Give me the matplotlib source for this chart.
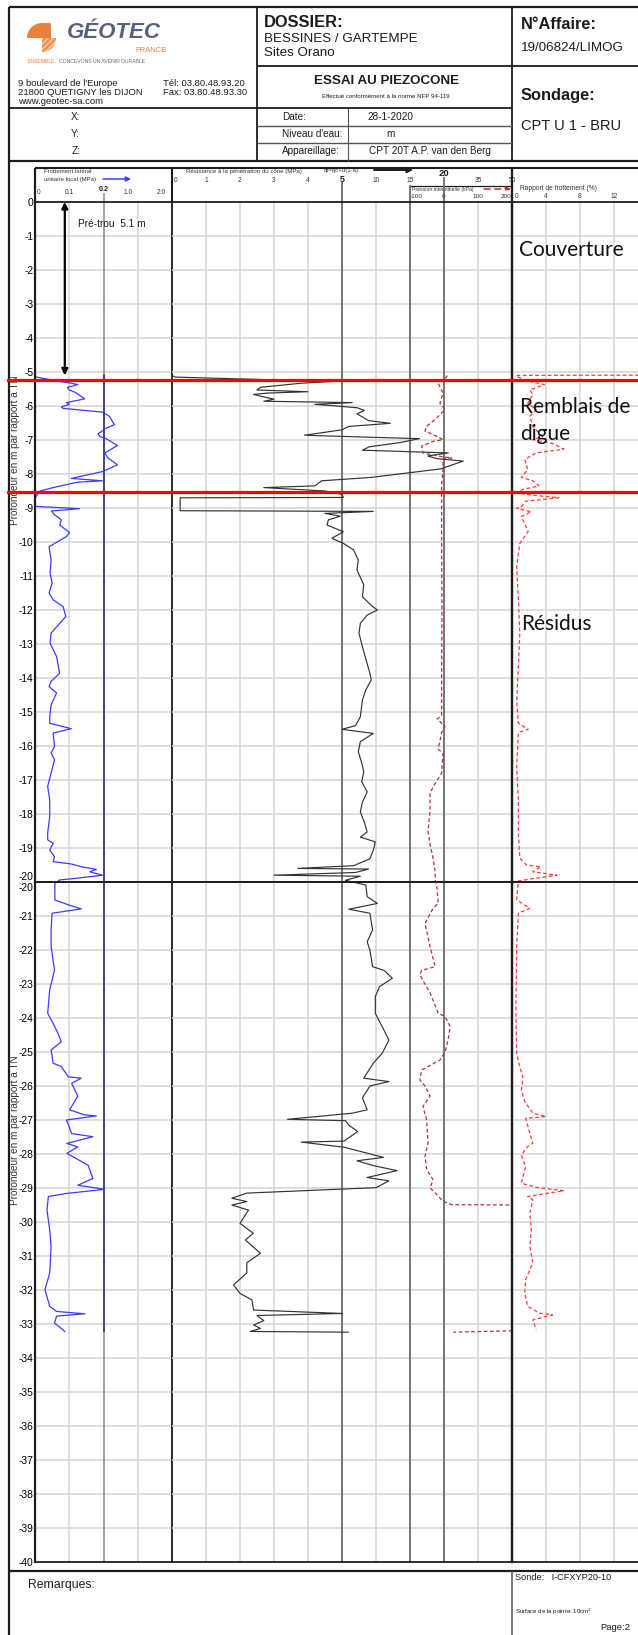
import numpy as np
import matplotlib
matplotlib.use("Agg")
import matplotlib.pyplot as plt
from matplotlib import transforms
from matplotlib.patches import Wedge, Rectangle

W, H = 638, 1635
plt.rcParams["font.family"] = ["Liberation Sans", "DejaVu Sans"]

# ---------------------------------------------------------------- data
PRETROU = 5.1
LAYER_LIMITS = [5.25, 8.52]
LAYER_NAMES = ["Couverture", "Remblais de\ndigue", "Résidus"]
LAYER_LABEL_AT = [(0.8, 1.42), (0.9, 6.42), (1.1, 12.4)]   # (Rf %, depth m)

PAGES = [(0, 20), (20, 40)]          # the log is printed on two stacked sheets

FS_DEPTH = [5.10, 5.14, 5.28, 5.33, 5.37, 5.45, 5.53, 5.60, 5.79, 5.90, 5.95, 6.03, 6.07,
            6.18, 6.30, 6.55, 6.65, 6.82, 6.90, 6.94, 7.16, 7.38, 7.53, 7.73, 7.93, 8.13,
            8.20, 8.24, 8.40, 8.50, 8.70, 8.95, 9.02, 9.09, 9.20, 9.35, 9.50, 9.72, 9.84,
            10.04, 10.14, 10.53, 10.92, 11.21, 11.50, 11.70, 11.90, 12.05, 12.19, 12.44,
            12.68, 12.98, 13.37, 13.86, 14.10, 14.25, 14.44, 14.79, 15.14, 15.33, 15.49,
            15.62, 16.01, 16.21, 16.40, 16.80, 17.19, 17.58, 18.07, 18.56, 18.76, 18.86,
            19.06, 19.26, 19.40, 19.47, 19.55, 19.63, 19.70, 19.80, 19.89, 19.94, 20.04,
            20.53, 20.68, 20.79, 20.92, 21.40, 21.90, 22.59, 23.17, 23.86, 24.16, 24.45,
            24.70, 24.94, 25.33, 25.43, 25.73, 25.77, 25.92, 26.30, 26.70, 26.85, 26.88,
            27.00, 27.40, 27.49, 27.69, 27.79, 27.98, 28.33, 28.72, 28.92, 28.97, 29.04,
            29.16, 29.25, 29.65, 30.24, 30.72, 31.50, 31.99, 32.48, 32.63, 32.70, 32.77,
            32.97, 33.22]
FS_MPA = [0.000, 0.000, 0.072, 0.106, 0.125, 0.095, 0.100, 0.118, 0.145, 0.092, 0.100,
          0.077, 0.082, 0.197, 0.217, 0.232, 0.208, 0.184, 0.190, 0.204, 0.241, 0.204,
          0.213, 0.241, 0.197, 0.106, 0.197, 0.125, 0.053, 0.015, 0.000, 0.000, 0.130,
          0.048, 0.057, 0.077, 0.072, 0.101, 0.092, 0.058, 0.041, 0.047, 0.044, 0.050,
          0.041, 0.053, 0.082, 0.086, 0.090, 0.068, 0.047, 0.044, 0.063, 0.072, 0.047,
          0.041, 0.063, 0.047, 0.043, 0.043, 0.106, 0.053, 0.057, 0.047, 0.057, 0.047,
          0.037, 0.043, 0.043, 0.037, 0.037, 0.053, 0.043, 0.057, 0.053, 0.106, 0.135,
          0.179, 0.160, 0.197, 0.121, 0.072, 0.058, 0.058, 0.100, 0.135, 0.050, 0.047,
          0.047, 0.057, 0.043, 0.037, 0.053, 0.067, 0.077, 0.047, 0.053, 0.077, 0.097,
          0.135, 0.107, 0.125, 0.101, 0.145, 0.179, 0.092, 0.107, 0.169, 0.093, 0.125,
          0.093, 0.155, 0.169, 0.125, 0.160, 0.203, 0.092, 0.039, 0.035, 0.043, 0.047,
          0.043, 0.029, 0.043, 0.063, 0.145, 0.063, 0.057, 0.087]

QC_DEPTH = [5.10, 5.15, 5.28, 5.33, 5.45, 5.53, 5.58, 5.62, 5.66, 5.71, 5.80, 5.86, 5.90,
            5.95, 6.05, 6.13, 6.23, 6.43, 6.51, 6.60, 6.70, 6.86, 6.90, 6.96, 7.08, 7.20,
            7.30, 7.38, 7.47, 7.55, 7.62, 7.85, 8.10, 8.20, 8.35, 8.40, 8.50, 8.60, 8.69,
            8.70, 9.08, 9.10, 9.16, 9.24, 9.35, 9.50, 9.70, 9.89, 10.04, 10.23, 10.53,
            10.82, 11.26, 11.61, 11.90, 12.00, 12.15, 12.39, 12.68, 13.08, 13.50, 13.86,
            14.06, 14.35, 14.65, 15.14, 15.40, 15.51, 15.63, 15.87, 16.17, 16.50, 16.76,
            17.05, 17.35, 17.65, 17.94, 18.25, 18.53, 18.68, 18.82, 19.07, 19.32, 19.52,
            19.60, 19.62, 19.72, 19.80, 19.83, 19.95, 20.09, 20.43, 20.63, 20.80, 20.92,
            21.41, 21.76, 22.00, 22.49, 22.60, 22.83, 23.08, 23.37, 23.86, 24.25, 24.65,
            25.04, 25.33, 25.77, 25.87, 26.00, 26.35, 26.70, 26.80, 26.98, 27.02, 27.15,
            27.34, 27.62, 27.65, 27.80, 27.95, 28.10, 28.20, 28.34, 28.49, 28.69, 28.79,
            28.99, 29.15, 29.30, 29.40, 29.50, 29.65, 30.04, 30.33, 30.53, 30.92, 31.20,
            31.50, 31.85, 32.10, 32.29, 32.59, 32.69, 32.75, 32.90, 33.03, 33.13, 33.22,
            33.24]
QC_MPA = [0.0, 0.1, 4.7, 3.8, 2.6, 2.5, 4.0, 2.8, 2.4, 2.6, 3.0, 2.7, 6.5, 4.2, 7.2, 8.3,
          7.2, 8.9, 12.1, 6.0, 5.0, 3.9, 6.0, 16.4, 13.4, 9.0, 8.0, 21.9, 17.6, 19.0, 28.5,
          19.5, 9.3, 4.4, 4.2, 2.7, 4.5, 5.0, 5.2, 0.24, 0.24, 9.6, 4.5, 4.95, 4.6, 4.56,
          5.2, 4.7, 5.2, 6.7, 7.4, 7.2, 8.2, 8.0, 9.5, 10.2, 8.7, 7.7, 7.5, 8.0, 8.6, 9.1,
          9.3, 8.5, 8.0, 7.7, 7.0, 5.0, 9.6, 7.7, 7.4, 7.9, 8.2, 7.9, 8.7, 8.0, 7.7, 8.3,
          8.7, 7.7, 9.9, 9.6, 9.1, 6.7, 3.7, 8.9, 7.0, 3.0, 7.7, 5.5, 8.5, 8.7, 10.2, 6.0,
          9.1, 9.5, 8.7, 9.1, 9.5, 11.2, 12.4, 10.5, 9.9, 9.9, 10.9, 11.9, 10.9, 9.6, 8.2,
          11.9, 9.1, 8.0, 8.7, 6.5, 3.4, 5.5, 6.0, 7.3, 5.3, 3.8, 5.3, 8.2, 11.1, 7.2, 9.6,
          13.1, 8.7, 11.9, 10.0, 2.2, 1.76, 2.2, 1.76, 2.25, 2.0, 2.39, 2.16, 2.6, 2.2, 2.2,
          1.81, 2.0, 2.35, 2.4, 5.1, 2.5, 2.7, 2.4, 2.6, 2.3, 5.9]

U_DEPTH = [5.10, 5.14, 5.33, 5.62, 5.92, 6.10, 6.35, 6.60, 6.74, 6.84, 6.99, 7.04, 7.18,
           7.38, 7.48, 7.53, 7.55, 7.85, 8.34, 8.93, 10.0, 12.0, 14.0, 15.10, 15.20, 15.43,
           15.60, 16.10, 16.20, 16.80, 17.20, 17.40, 17.90, 18.50, 18.90, 19.30, 19.70,
           19.94, 20.13, 20.63, 20.77, 21.22, 21.90, 22.49, 22.60, 22.73, 23.27, 23.86,
           23.96, 24.25, 24.65, 25.00, 25.24, 25.53, 25.82, 26.00, 26.30, 26.60, 27.00,
           27.68, 28.07, 28.46, 28.76, 29.00, 29.14, 29.39, 29.49, 29.50, 33.20, 33.24]
U_KPA = [8, 8, -17, -3, -12, 3, -21, -51, -56, -32, -3, -32, -66, -62, -12, 23, -3, -3,
         -7, -7, -7, -6, -7, -7, -20, 3, -7, -17, -3, -7, -32, -41, -41, -47, -41, -32,
         -26, -26, -21, -17, -32, -56, -41, -26, -66, -71, -41, -17, 3, 18, 12, 3, -12,
         -66, -71, -56, -41, -62, -51, -47, -56, -51, -32, -41, -26, -3, 23, 199, 199, 27]

RF_DEPTH = [5.09, 5.10, 5.13, 5.28, 5.37, 5.53, 5.66, 5.92, 6.10, 6.30, 6.60, 6.90, 6.99,
            7.10, 7.27, 7.38, 7.57, 7.87, 8.10, 8.20, 8.35, 8.45, 8.55, 8.60, 8.70, 8.80,
            8.99, 9.01, 9.11, 9.25, 9.69, 10.04, 10.73, 11.70, 12.68, 13.66, 14.65, 15.33,
            15.51, 15.60, 16.60, 17.60, 18.56, 19.30, 19.50, 19.55, 19.70, 19.80, 19.90,
            19.97, 20.53, 20.77, 20.92, 21.90, 23.86, 25.04, 25.43, 25.77, 26.12, 26.46,
            26.80, 26.90, 26.95, 27.39, 27.68, 27.78, 28.03, 28.37, 28.86, 28.98, 29.08,
            29.25, 29.35, 29.74, 30.23, 30.72, 31.20, 31.70, 32.09, 32.48, 32.68, 32.73,
            32.88, 33.17]
RF_PCT = [20.0, 0.5, 0.54, 2.1, 3.8, 2.1, 2.45, 1.85, 2.85, 2.1, 2.45, 3.6, 2.45, 4.77,
          6.1, 2.85, 1.5, 1.85, 1.1, 2.45, 3.2, 1.3, 0.55, 1.6, 5.5, 1.6, 1.0, 0.55, 2.27,
          1.1, 1.9, 0.92, 0.55, 0.75, 0.92, 0.75, 0.55, 0.75, 1.9, 0.75, 0.55, 0.75, 0.75,
          0.92, 1.7, 3.4, 2.45, 5.3, 2.45, 0.75, 0.55, 2.1, 0.75, 0.55, 0.46, 0.55, 0.92,
          1.3, 1.1, 1.5, 2.45, 4.0, 1.6, 2.1, 2.45, 1.85, 1.1, 1.6, 1.1, 2.85, 6.1, 1.85,
          2.45, 2.1, 2.27, 2.1, 2.45, 1.6, 1.5, 1.85, 3.2, 4.77, 2.45, 2.85]

FS_TICKS = [0, 0.1, 0.2]
FS_COARSE_TICKS = [1.0, 2.0]
QC_TICKS = [0, 1, 2, 3, 4, 5, 10, 15, 20, 35, 50]
U_TICKS = [-100, 0, 100, 200]
RF_TICKS = [0, 4, 8, 12]

# piecewise cone-resistance scale (0-5 / 5-20 / 20-50 MPa)
QC_BREAKS = [0, 5, 20, 50]
QC_UNITS = [0, 5, 8, 10]

INK = "#1c1c1c"
GRID = "#d4d4d4"
DARK = "#6a6a6a"
BLUE = "#3b3bff"
NAVY = "#2a2a88"
U_RED = "#b03434"
RF_RED = "#ff3a3a"
ORANGE = "#e9813a"


def qc_fwd(q):
    return np.interp(q, QC_BREAKS, QC_UNITS)


def qc_inv(u):
    return np.interp(u, QC_UNITS, QC_BREAKS)


def fs_coarse(v):
    # position of the 0-2 MPa labels on the 0-0.4 MPa axis
    return 0.175 + 0.0975 * v


fig = plt.figure(figsize=(W / 100, H / 100), dpi=100)
bg = fig.add_axes([0, 0, 1, 1])
bg.set_xlim(0, W)
bg.set_ylim(H, 0)
bg.axis("off")

PAGE_PX = [(202, 882), (882, 1562)]


def hl(y, x0, x1, lw=1.0, c=INK):
    bg.plot([x0, x1], [y, y], color=c, lw=lw, solid_capstyle="butt")


def vl(x, y0, y1, lw=1.0, c=INK):
    bg.plot([x, x], [y0, y1], color=c, lw=lw, solid_capstyle="butt")


def txt(x, y, s, **kw):
    kw.setdefault("va", "center")
    kw.setdefault("ha", "left")
    kw.setdefault("color", INK)
    return bg.text(x, y, s, **kw)


# ---------------------------------------------------------------- header frame
hl(7, 9, W, 1.6)
vl(9, 7, H, 1.6)
hl(161, 9, W, 1.6)
vl(257, 7, 161, 1.3)
vl(512, 7, 161, 1.3)
hl(66, 257, W, 1.3)
hl(108, 9, 512, 1.3)
hl(126, 257, 512, 1.0, "#555555")
hl(143, 257, 512, 1.0, "#555555")
vl(348, 108, 161, 0.8, "#555555")

# logo
bg.add_patch(Wedge((42, 38), 15, 180, 270, color=ORANGE, lw=0))
bg.add_patch(Rectangle((42, 23), 9, 15, color=ORANGE, lw=0))
bg.add_patch(Wedge((42, 38), 14, 0, 90, facecolor="#f6b98a", edgecolor=ORANGE,
                   hatch="//////", lw=0))
txt(67, 32, "GÉOTEC", fontsize=16, fontweight="bold", style="italic", color="#56607e")
txt(167, 50, "FRANCE", fontsize=5.5, color=ORANGE, ha="right")
t_ens = txt(28, 61, "ENSEMBLE,", fontsize=3.7, color=ORANGE)
bg.annotate("CONCEVONS UN AVENIR DURABLE", xy=(1, 0.5), xycoords=t_ens,
            xytext=(1.5, 0), textcoords="offset points", va="center", ha="left",
            fontsize=3.7, color="#6a6a6a")

txt(18, 83, "9 boulevard de l'Europe", fontsize=6.8)
txt(18, 92, "21800 QUETIGNY les DIJON", fontsize=6.8)
txt(18, 101, "www.geotec-sa.com", fontsize=6.8)
txt(163, 83, "Tél: 03.80.48.93.20", fontsize=6.8)
txt(163, 92, "Fax: 03.80.48.93.30", fontsize=6.8)
for lab, yy in zip(["X:", "Y:", "Z:"], [117, 134, 151]):
    txt(80, yy, lab, fontsize=7.2, ha="right")

txt(264, 22, "DOSSIER:", fontsize=11.8, fontweight="bold")
txt(264, 39, "BESSINES / GARTEMPE", fontsize=9.6)
txt(264, 53, "Sites Orano", fontsize=9.6)
txt(386, 81, "ESSAI AU PIEZOCONE", fontsize=9.6, fontweight="bold", ha="center")
txt(386, 96, "Effectué conformément à la norme NFP 94-119", fontsize=4.4, ha="center")
txt(282, 117, "Date:", fontsize=7.2)
txt(282, 134, "Niveau d'eau:", fontsize=7.2)
txt(282, 151, "Appareillage:", fontsize=7.2)
txt(390, 117, "28-1-2020", fontsize=7.2, ha="center")
txt(390, 134, "m", fontsize=7.2, ha="center")
txt(430, 151, "CPT 20T A.P. van den Berg", fontsize=7.2, ha="center")

txt(521, 24, "N°Affaire:", fontsize=11.8, fontweight="bold")
txt(521, 48, "19/06824/LIMOG", fontsize=9.6)
txt(521, 95, "Sondage:", fontsize=11.8, fontweight="bold")
txt(521, 126, "CPT U 1 - BRU", fontsize=10.5)

# ---------------------------------------------------------------- chart header box
hl(168, 35, W, 1.5)
vl(35, 168, 202, 1.6)
vl(172, 168, 202, 1.5)
vl(512, 168, 202, 1.5)
hl(186, 410, 512, 0.9)

txt(44, 171.5, "Frottement latéral", fontsize=4.3, color="#333333")
txt(44, 179, "unitaire local (MPa)", fontsize=4.3, color="#333333")
bg.annotate("", xy=(131, 179), xytext=(103, 179),
            arrowprops=dict(arrowstyle="-|>", color=BLUE, lw=1.1, mutation_scale=7,
                            shrinkA=0, shrinkB=0))
txt(244, 171, "Résistance à la pénétration du cône (MPa)", fontsize=4.4,
    ha="center", color="#333333")
txt(324, 170.5, "qt=qc+u(1-a)", fontsize=4.4, color="#333333")
bg.annotate("", xy=(413, 170), xytext=(374, 170),
            arrowprops=dict(arrowstyle="-|>", color=INK, lw=1.4, mutation_scale=8,
                            shrinkA=0, shrinkB=0))
txt(412, 189.5, "Pression interstitielle (kPa)", fontsize=3.7, color="#333333")
bg.annotate("", xy=(511, 189), xytext=(484, 189),
            arrowprops=dict(arrowstyle="-|>", color=U_RED, lw=1.1, ls=(0, (4, 3)),
                            mutation_scale=7, shrinkA=0, shrinkB=0))
txt(520, 188.5, "Rapport de frottement (%)", fontsize=4.8, color="#333333")
bg.annotate("", xy=(640, 188), xytext=(604, 188),
            arrowprops=dict(arrowstyle="-|>", color=RF_RED, lw=1.1, ls=(0, (4, 3)),
                            mutation_scale=7, shrinkA=0, shrinkB=0))

# remarks footer
hl(1571, 9, W, 1.6)
vl(512, 1571, H, 1.1, "#555555")
txt(28, 1585, "Remarques:", fontsize=8.8)
txt(515, 1577, "Sonde:   I-CFXYP20-10", fontsize=6.6)
txt(515, 1612, "Surface de la pointe: 10cm$^2$", fontsize=4.4)
txt(600, 1627, "Page:2", fontsize=6.8)


# ---------------------------------------------------------------- data panels
def head(ax, x, s, y_px, **kw):
    tr = transforms.blended_transform_factory(ax.transData, fig.transFigure)
    kw.setdefault("fontsize", 4.8)
    kw.setdefault("color", "#333333")
    kw.setdefault("ha", "center")
    ax.text(x, 1 - y_px / H, s, transform=tr, va="center", **kw)


def draw_page(d0, d1, y0, y1, first):
    def px_axes(x0, x1):
        return fig.add_axes([x0 / W, 1 - y1 / H, (x1 - x0) / W, (y1 - y0) / H])

    ax_fs = px_axes(35, 172)
    ax_qc = px_axes(172, 512)
    ax_u = px_axes(410, 512)
    ax_rf = px_axes(512, 648)
    ax_qc.set_xscale("function", functions=(qc_fwd, qc_inv))
    ax_fs.set_xlim(0, 0.4)
    ax_qc.set_xlim(0, 50)
    ax_u.set_xlim(-100, 200)
    ax_rf.set_xlim(0, 16)

    for ax in (ax_fs, ax_qc, ax_u, ax_rf):
        ax.set_ylim(d1, d0)
        ax.set_facecolor("none")
        ax.set_xticks([])
        ax.set_yticks([])
        for sp in ax.spines.values():
            sp.set_color(INK)
            sp.set_linewidth(1.3)
    for sp in ax_u.spines.values():
        sp.set_visible(False)
    ax_qc.spines["left"].set_visible(False)
    ax_rf.spines["left"].set_visible(False)
    ax_fs.spines["left"].set_linewidth(1.6)
    ax_qc.spines["right"].set_linewidth(1.6)

    # grid
    for ax in (ax_fs, ax_qc, ax_rf):
        for d in range(d0 + 1, d1):
            ax.axhline(d, color=GRID, lw=1.1, zorder=0)
    for x in (0.1, 0.3):
        ax_fs.axvline(x, color=GRID, lw=1.1, zorder=0)
    for x in (1, 2, 3, 4, 10, 35):
        ax_qc.axvline(x, color=GRID, lw=1.1, zorder=0)
    for x in (4, 8, 12):
        ax_rf.axvline(x, color=GRID, lw=1.1, zorder=0)

    # darker reference lines (on the first sheet they reach up into the header)
    ppm = (y1 - y0) / (d1 - d0)
    top = d0 - (8 / ppm if first else 0)
    ax_fs.plot([0.2, 0.2], [top, d1], color="#8a8a8a", lw=1.1, clip_on=False, zorder=1)
    for x, reach in ((5, 19), (15, 16), (20, 24)):
        tq = d0 - (reach / ppm if first else 0)
        ax_qc.plot([x, x], [tq, d1], color=DARK, lw=1.3, clip_on=False, zorder=1)
    ax_rf.plot([0, 0], [d0 - (34 / ppm if first else 0), d1], color=INK, lw=1.6,
               clip_on=False, zorder=4)

    # curves
    ax_fs.plot([0.2, 0.2], [FS_DEPTH[0], FS_DEPTH[-1]], color=NAVY, lw=1.1, zorder=2)
    ax_fs.plot(FS_MPA, FS_DEPTH, color=BLUE, lw=0.9, zorder=2)
    ax_qc.plot(QC_MPA, QC_DEPTH, color="#333333", lw=0.85, zorder=2)
    ax_u.plot(U_KPA, U_DEPTH, color=U_RED, lw=0.9, ls=(0, (3, 2)), zorder=2)
    ax_rf.plot(RF_PCT, RF_DEPTH, color=RF_RED, lw=0.9, ls=(0, (3, 2)), zorder=2)

    # depth labels
    ticks = list(range(d0, d1 + 1))
    labels = [("0" if d == 0 else f"-{d}") for d in ticks]
    if first:
        ticks[-1] = d1 - 6 / ppm
    else:
        ticks[0] = d0 + 5 / ppm
    ax_fs.set_yticks(ticks)
    ax_fs.set_yticklabels(labels, fontsize=7.4)
    ax_fs.tick_params(axis="y", length=0, pad=1.2)
    ylab_tr = transforms.blended_transform_factory(ax_fs.transAxes, ax_fs.transData)
    ax_fs.text(-0.146, d0 + 0.365 * (d1 - d0), "Profondeur en m par rapport à TN",
               transform=ylab_tr, rotation=90, ha="center", va="center",
               fontsize=7.2, color="#333333")
    return ax_fs, ax_qc, ax_u, ax_rf


axes = [draw_page(d0, d1, y0, y1, i == 0)
        for i, ((d0, d1), (y0, y1)) in enumerate(zip(PAGES, PAGE_PX))]
ax_fs, ax_qc, ax_u, ax_rf = axes[0]

# header tick labels, placed through each panel's own x scale
for v in FS_TICKS:
    if v == 0.2:
        head(ax_fs, v, "0.2", 189, fontweight="bold", fontsize=5.2, color=INK)
    else:
        head(ax_fs, v + (0.01 if v == 0 else 0), f"{v:g}", 193)
for v in FS_COARSE_TICKS:
    head(ax_fs, fs_coarse(v), f"{v:.1f}", 193)
for v in QC_TICKS:
    if v == 5:
        head(ax_qc, v, "5", 180, fontweight="bold", fontsize=6.5, color=INK)
    elif v == 20:
        head(ax_qc, v, "20", 173, fontweight="bold", fontsize=6.8, color=INK)
    else:
        head(ax_qc, v + (0.1 if v == 0 else 0), f"{v}", 180)
for v in U_TICKS:
    if v == U_TICKS[0]:
        head(ax_u, v, f"{v}", 197, fontsize=4.6, ha="left")
    elif v == U_TICKS[-1]:
        head(ax_u, v - 3, f"{v}", 197, fontsize=4.6, ha="right")
    else:
        head(ax_u, v, f"{v}", 197, fontsize=4.6)
for v in RF_TICKS:
    if v == 0:
        head(ax_rf, v + 0.3, "0", 197, ha="left")
    else:
        head(ax_rf, v, f"{v}", 197)

# pre-drilling arrow
ax_fs.annotate("", xy=(0.087, 0), xytext=(0.087, PRETROU),
               arrowprops=dict(arrowstyle="<|-|>", color="black", lw=1.6,
                               mutation_scale=9, shrinkA=0, shrinkB=0))
ax_fs.text(0.125, 0.65, f"Pré-trou  {PRETROU} m", fontsize=7.3, va="center", color=INK)

# layers
for name, (xr, dd) in zip(LAYER_NAMES, LAYER_LABEL_AT):
    ax_rf.text(xr, dd, name, family=["Lato", "DejaVu Sans"], fontsize=15,
               va="center", ha="left", color="#111111", linespacing=1.45)

y0, y1 = PAGE_PX[0]
ax_all = fig.add_axes([7 / W, 1 - y1 / H, (W - 7) / W, (y1 - y0) / H])
ax_all.set_ylim(PAGES[0][1], PAGES[0][0])
ax_all.axis("off")
for d in LAYER_LIMITS:
    ax_all.axhline(d, color="#ff0000", lw=2.3)

fig.savefig("out.png", dpi=100)
